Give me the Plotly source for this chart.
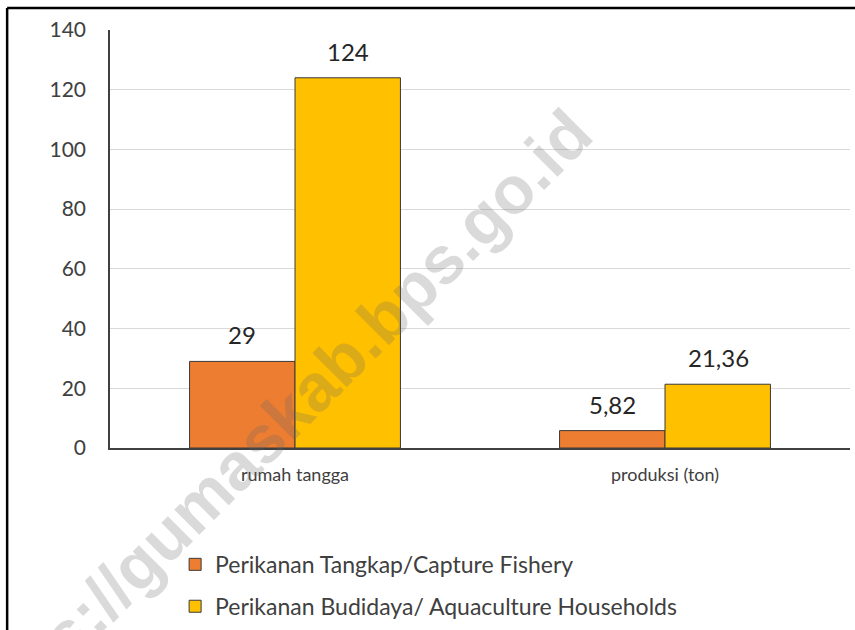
import plotly.graph_objects as go

categories = ["rumah tangga", "produksi (ton)"]
capture_values = [29, 5.82]
aquaculture_values = [124, 21.36]
series_names = ["Perikanan Tangkap/Capture Fishery", "Perikanan Budidaya/ Aquaculture Households"]
y_ticks = [0, 20, 40, 60, 80, 100, 120, 140]
watermark = "https://gumaskab.bps.go.id"

FONT = "Lato"
ORANGE = "#ED7D31"
YELLOW = "#FFC000"
EDGE = "#3a3a3a"

def fmt(v):
    return f"{v:g}".replace(".", ",")

fig = go.Figure()
fig.add_trace(go.Bar(x=categories, y=capture_values, name=series_names[0],
                     marker=dict(color=ORANGE, line=dict(color=EDGE, width=1)),
                     legendgroup="a"))
fig.add_trace(go.Bar(x=categories, y=aquaculture_values, name=series_names[1],
                     marker=dict(color=YELLOW, line=dict(color=EDGE, width=1)),
                     legendgroup="b"))

annotations = []
for vals, shift in ((capture_values, -53), (aquaculture_values, 53)):
    for c, v in zip(categories, vals):
        annotations.append(dict(x=c, y=v, xref="x", yref="y", text=fmt(v),
                                showarrow=False, xshift=shift, yshift=10,
                                yanchor="bottom",
                                font=dict(family=FONT, size=24, color="#262626")))

annotations.append(dict(x=0.218, y=0.045, xref="paper", yref="paper", text=watermark,
                        showarrow=False, textangle=-45,
                        font=dict(family="Liberation Sans", size=67, weight="bold",
                                  color="rgba(100,100,100,0.24)"),
                        xanchor="center", yanchor="middle"))

fig.update_layout(
    width=855, height=630,
    margin=dict(l=110, r=5, t=30, b=182, autoexpand=False),
    paper_bgcolor="white", plot_bgcolor="white",
    barmode="group", bargap=0.43, bargroupgap=0,
    font=dict(family=FONT, color="#404040"),
    annotations=annotations,
    legend=dict(orientation="v", x=0.088, y=-0.227, xanchor="left", yanchor="top",
                font=dict(family=FONT, size=23, color="#404040"),
                tracegroupgap=9, itemwidth=30, bgcolor="rgba(0,0,0,0)"),
    showlegend=True,
    shapes=[
        dict(type="line", xref="paper", yref="paper", x0=-0.139, x1=1.05, y0=1.0526, y1=1.0526,
             line=dict(color="black", width=2.5)),
        dict(type="line", xref="paper", yref="paper", x0=-0.139, x1=-0.139, y0=1.0526, y1=-0.6,
             line=dict(color="black", width=2.5)),
    ],
)
fig.update_yaxes(range=[0, 140], tickvals=y_ticks, showgrid=True, gridcolor="#d9d9d9", gridwidth=1,
                 showline=True, linecolor="#404040", linewidth=1.5, zeroline=False,
                 tickfont=dict(family=FONT, size=21, color="#404040"), ticklabelstandoff=18)
fig.update_xaxes(showline=True, linecolor="#404040", linewidth=1.5,
                 tickfont=dict(family=FONT, size=18, color="#404040"), ticklabelstandoff=10)

fig.write_html("out.html", config={"displayModeBar": False},
               post_script="document.body.style.margin='0';document.body.style.overflow='hidden';")
